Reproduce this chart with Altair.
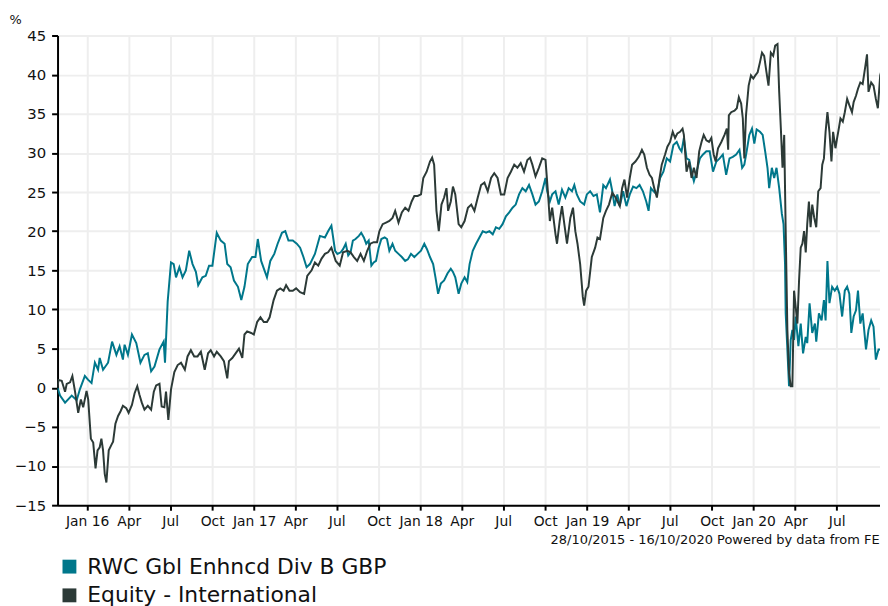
import altair as alt
import pandas as pd

FUND = "RWC Gbl Enhncd Div B GBP"
SECTOR = "Equity - International"
TEAL = "#00778b"
DARK = "#2c3a37"

# time in decimal years, value in %
fund_t = [2015.822, 2015.837, 2015.867, 2015.907, 2015.937, 2015.956, 2015.986, 2016.006, 2016.026, 2016.046,
          2016.065, 2016.075, 2016.095, 2016.125, 2016.149, 2016.175, 2016.194, 2016.214, 2016.224, 2016.244,
          2016.268, 2016.294, 2016.319, 2016.343, 2016.363, 2016.383, 2016.403, 2016.433, 2016.458, 2016.466,
          2016.482, 2016.502, 2016.518, 2016.532, 2016.552, 2016.571, 2016.591, 2016.611, 2016.631, 2016.651,
          2016.665, 2016.690, 2016.710, 2016.730, 2016.750, 2016.776, 2016.800, 2016.823, 2016.839, 2016.859,
          2016.879, 2016.903, 2016.923, 2016.942, 2016.962, 2016.988, 2017.008, 2017.022, 2017.042, 2017.062,
          2017.077, 2017.097, 2017.121, 2017.141, 2017.167, 2017.187, 2017.206, 2017.232, 2017.256, 2017.276,
          2017.296, 2017.315, 2017.335, 2017.365, 2017.395, 2017.425, 2017.444, 2017.464,
          2017.486, 2017.500, 2017.520, 2017.534, 2017.550, 2017.565, 2017.579, 2017.593, 2017.609, 2017.629,
          2017.643, 2017.659, 2017.673, 2017.688, 2017.704, 2017.718, 2017.732, 2017.748, 2017.764, 2017.784,
          2017.798, 2017.812, 2017.831, 2017.847, 2017.867, 2017.887, 2017.907, 2017.923, 2017.942, 2017.962,
          2017.982, 2018.002, 2018.022, 2018.038, 2018.056, 2018.075, 2018.089, 2018.105, 2018.121, 2018.141,
          2018.161, 2018.181, 2018.194, 2018.208, 2018.228, 2018.244, 2018.264, 2018.280, 2018.294, 2018.313,
          2018.333, 2018.353, 2018.373, 2018.393, 2018.413, 2018.433, 2018.452, 2018.472, 2018.492, 2018.512,
          2018.532, 2018.552, 2018.571, 2018.591, 2018.611, 2018.631, 2018.651, 2018.671, 2018.690, 2018.710,
          2018.730, 2018.750, 2018.760, 2018.776, 2018.790, 2018.810, 2018.829, 2018.849, 2018.869, 2018.889,
          2018.909, 2018.923, 2018.938, 2018.958, 2018.982, 2018.998, 2019.018, 2019.038, 2019.058, 2019.077,
          2019.097, 2019.113, 2019.137, 2019.151, 2019.165, 2019.181, 2019.196, 2019.216, 2019.236, 2019.256,
          2019.276, 2019.296, 2019.315, 2019.335, 2019.355, 2019.369, 2019.383, 2019.399, 2019.419, 2019.438,
          2019.458, 2019.478, 2019.498, 2019.518, 2019.538, 2019.554, 2019.567, 2019.581, 2019.597, 2019.613,
          2019.627, 2019.641, 2019.657, 2019.677, 2019.696, 2019.716, 2019.736, 2019.756, 2019.776, 2019.796,
          2019.815, 2019.835, 2019.855, 2019.875, 2019.895, 2019.915, 2019.931, 2019.944, 2019.958, 2019.974,
          2019.990, 2020.004, 2020.018, 2020.038, 2020.054, 2020.069, 2020.083, 2020.093, 2020.109, 2020.123,
          2020.137, 2020.153, 2020.169, 2020.179, 2020.188, 2020.192, 2020.202, 2020.212, 2020.222, 2020.232,
          2020.242, 2020.252, 2020.268, 2020.282, 2020.296, 2020.312, 2020.321, 2020.335, 2020.351, 2020.367,
          2020.375, 2020.391, 2020.407, 2020.421, 2020.431, 2020.442, 2020.454, 2020.470, 2020.486, 2020.500,
          2020.514, 2020.530, 2020.546, 2020.560, 2020.573, 2020.585, 2020.599, 2020.613, 2020.625, 2020.639,
          2020.653, 2020.673, 2020.688, 2020.704, 2020.718, 2020.732, 2020.748, 2020.768, 2020.790]
fund_v = [0.0, -1.0, -1.9, -1.0, -1.6, -0.2, 1.5, 1.0, 0.6, 3.2,
          2.3, 3.8, 2.3, 3.2, 5.9, 4.2, 5.3, 3.6, 5.5, 4.2,
          6.8, 5.7, 3.2, 4.2, 4.4, 2.1, 2.7, 4.9, 5.9, 3.2,
          11.0, 16.0, 15.8, 14.1, 15.4, 14.1, 15.0, 17.5, 15.8, 14.8,
          13.1, 14.1, 14.3, 15.6, 15.6, 19.8, 18.8, 18.4, 15.8, 15.4,
          13.7, 12.9, 11.2, 12.9, 15.8, 16.7, 16.7, 19.0, 16.2, 15.0,
          14.1, 16.2, 17.1, 18.4, 19.8, 20.0, 18.8, 18.8, 18.4, 17.9,
          16.7, 15.4, 15.8, 17.1, 19.4, 19.2, 20.0, 20.7,
          17.5, 17.1, 17.3, 17.7, 18.4, 16.9, 17.3, 18.8, 19.0, 19.4,
          19.8, 19.2, 18.4, 18.8, 15.6, 16.0, 16.2, 17.9, 19.0, 19.2,
          19.0, 17.5, 18.4, 17.5, 17.1, 16.7, 16.2, 16.4, 17.1, 16.7,
          17.1, 17.5, 18.4, 17.7, 16.7, 15.8, 14.1, 12.0, 13.3, 13.7,
          14.6, 15.2, 14.8, 14.1, 12.0, 13.3, 14.1, 13.5, 15.8, 17.5,
          18.4, 19.2, 20.0, 19.8, 20.0, 19.6, 20.5, 20.3, 20.9, 21.9,
          22.4, 23.0, 23.4, 24.7, 25.5, 25.1, 25.9, 24.7, 23.4, 23.8,
          25.1, 26.8, 25.1, 23.8, 24.7, 25.1, 23.4, 25.3, 24.3, 25.5,
          25.1, 25.9, 24.7, 23.8, 23.4, 24.7, 25.1, 24.5, 24.7, 22.4,
          25.9, 25.5, 26.6, 25.1, 23.2, 24.7, 23.2, 25.1, 23.2, 24.7,
          25.7, 25.5, 25.9, 25.1, 23.8, 22.6, 25.5, 25.1, 24.7, 26.8,
          27.6, 29.3, 28.9, 31.0, 31.4, 30.6, 30.2, 31.9, 29.3, 29.1,
          27.6, 26.4, 27.6, 29.3, 29.8, 30.2, 30.2, 27.6, 28.9, 29.3,
          29.8, 27.2, 29.3, 29.5, 29.8, 30.4, 28.1, 28.5, 30.2, 32.3,
          33.1, 31.2, 33.0, 32.7, 32.3, 30.2, 28.1, 25.5, 28.1, 26.8,
          28.1, 25.5, 22.2, 20.9, 15.8, 9.5, 4.9, 0.2, 6.1, 7.4,
          6.1, 9.1, 5.3, 8.2, 4.4, 6.5, 5.7, 10.8, 7.0, 8.2,
          5.9, 9.5, 8.6, 11.2, 8.6, 16.2, 10.8, 12.9, 12.4, 12.9,
          12.0, 9.1, 12.4, 12.9, 12.0, 7.0, 9.1, 9.9, 12.4, 8.2,
          9.5, 4.9, 7.4, 8.6, 7.8, 3.6, 4.9, 4.9, 3.8]

sector_t = [2015.822, 2015.827, 2015.847, 2015.867, 2015.877, 2015.897, 2015.911, 2015.927, 2015.946, 2015.962,
            2015.976, 2015.996, 2016.006, 2016.022, 2016.036, 2016.050, 2016.062, 2016.075, 2016.085, 2016.095,
            2016.105, 2016.115, 2016.129, 2016.145, 2016.155, 2016.169, 2016.185, 2016.200, 2016.214, 2016.234,
            2016.248, 2016.268, 2016.284, 2016.300, 2016.313, 2016.327, 2016.343, 2016.363, 2016.383, 2016.399,
            2016.413, 2016.433, 2016.446, 2016.462, 2016.472, 2016.486, 2016.502, 2016.522, 2016.542, 2016.562,
            2016.585, 2016.601, 2016.621, 2016.641, 2016.661, 2016.681, 2016.704, 2016.724, 2016.740, 2016.760,
            2016.776, 2016.800, 2016.819, 2016.839, 2016.849, 2016.869, 2016.889, 2016.909, 2016.929, 2016.942,
            2016.958, 2016.982, 2016.998, 2017.018, 2017.038, 2017.058, 2017.077, 2017.093, 2017.117, 2017.137,
            2017.157, 2017.177, 2017.192, 2017.212, 2017.232, 2017.252, 2017.276, 2017.300, 2017.319, 2017.345,
            2017.365, 2017.385, 2017.405, 2017.425, 2017.444, 2017.464,
            2017.490, 2017.514, 2017.534, 2017.560, 2017.579, 2017.599, 2017.619, 2017.639, 2017.659, 2017.679,
            2017.698, 2017.718, 2017.738, 2017.752, 2017.772, 2017.792, 2017.812, 2017.831, 2017.847, 2017.867,
            2017.887, 2017.907, 2017.927, 2017.946, 2017.962, 2017.982, 2018.002, 2018.016, 2018.036, 2018.056,
            2018.069, 2018.081, 2018.095, 2018.109, 2018.125, 2018.141, 2018.155, 2018.165, 2018.181, 2018.194,
            2018.208, 2018.228, 2018.244, 2018.264, 2018.284, 2018.304, 2018.323, 2018.343, 2018.363, 2018.383,
            2018.403, 2018.423, 2018.442, 2018.462, 2018.482, 2018.502, 2018.522, 2018.542, 2018.562, 2018.581,
            2018.601, 2018.621, 2018.641, 2018.657, 2018.671, 2018.690, 2018.710, 2018.730, 2018.750, 2018.764,
            2018.776, 2018.790, 2018.810, 2018.819, 2018.835, 2018.849, 2018.863, 2018.879, 2018.899, 2018.915,
            2018.929, 2018.942, 2018.958, 2018.974, 2018.982, 2018.994, 2019.008, 2019.028, 2019.048, 2019.062,
            2019.077, 2019.097, 2019.113, 2019.131, 2019.151, 2019.171, 2019.196, 2019.210, 2019.224, 2019.240,
            2019.256, 2019.270, 2019.290, 2019.310, 2019.329, 2019.343, 2019.359, 2019.375, 2019.389, 2019.403,
            2019.419, 2019.435, 2019.448, 2019.468, 2019.482, 2019.498, 2019.514, 2019.528, 2019.542, 2019.558,
            2019.573, 2019.581, 2019.597, 2019.613, 2019.627, 2019.641, 2019.657, 2019.673, 2019.687, 2019.700,
            2019.716, 2019.732, 2019.746, 2019.760, 2019.772, 2019.786, 2019.806, 2019.825, 2019.839, 2019.847,
            2019.851, 2019.865, 2019.885, 2019.899, 2019.911, 2019.925, 2019.935, 2019.944, 2019.954, 2019.970,
            2019.984, 2019.998, 2020.010, 2020.024, 2020.038, 2020.050, 2020.063, 2020.077, 2020.089, 2020.103,
            2020.117, 2020.129, 2020.143, 2020.153, 2020.163, 2020.173, 2020.183, 2020.192, 2020.202, 2020.212,
            2020.222, 2020.232, 2020.242, 2020.252, 2020.262, 2020.272, 2020.282, 2020.292, 2020.302, 2020.312,
            2020.321, 2020.331, 2020.341, 2020.351, 2020.363, 2020.375, 2020.387, 2020.401, 2020.411, 2020.421,
            2020.431, 2020.442, 2020.454, 2020.466, 2020.476, 2020.490, 2020.500, 2020.510, 2020.520, 2020.534,
            2020.546, 2020.560, 2020.573, 2020.589, 2020.599, 2020.613, 2020.625, 2020.639, 2020.653, 2020.669,
            2020.679, 2020.688, 2020.704, 2020.718, 2020.732, 2020.744, 2020.758, 2020.768, 2020.790]
sector_v = [0.0, 1.0, 0.9, -0.5, 0.5, 0.7, 1.5, -0.5, -3.2, -1.5,
            -2.5, -0.4, -1.5, -6.5, -7.0, -10.3, -8.0, -7.6, -6.5, -8.0,
            -11.0, -12.1, -8.0, -7.3, -6.9, -4.6, -3.6, -3.0, -2.3, -2.6,
            -3.2, -2.2, -0.7, 0.2, -0.9, -1.9, -2.8, -2.3, -2.8, -0.5,
            0.3, 0.5, -2.4, -2.5, -0.5, -4.1, -0.2, 2.0, 2.9, 3.2,
            2.3, 4.0, 4.8, 4.0, 4.0, 4.6, 2.3, 4.4, 4.8, 4.0,
            4.6, 4.0, 3.4, 1.2, 3.4, 3.8, 4.4, 5.0, 3.8, 6.8,
            7.2, 7.0, 6.8, 8.4, 9.0, 8.4, 8.4, 9.0, 11.2, 12.4,
            12.7, 12.4, 13.1, 12.4, 12.4, 12.7, 12.2, 12.0, 14.3, 15.0,
            16.0, 15.6, 16.5, 17.1, 17.3, 17.9,
            16.2, 15.6, 17.3, 17.5, 17.3, 16.7, 16.2, 17.1, 16.2, 17.5,
            18.4, 18.6, 18.6, 20.0, 20.9, 21.1, 21.3, 21.7, 22.6, 21.1,
            22.4, 23.0, 22.6, 23.8, 24.5, 24.5, 24.7, 26.8, 27.6, 28.9,
            29.4, 28.5, 22.6, 20.0, 23.4, 24.3, 25.5, 22.6, 23.8, 25.7,
            24.7, 20.9, 20.5, 21.3, 23.0, 23.4, 22.6, 24.3, 25.9, 26.2,
            25.1, 26.8, 27.4, 26.8, 24.7, 24.7, 26.8, 27.6, 28.5, 28.1,
            28.7, 27.6, 29.1, 29.4, 28.5, 27.0, 28.1, 29.3, 29.1, 25.1,
            21.3, 23.0, 19.6, 18.4, 21.3, 23.2, 20.9, 18.4, 21.7, 23.0,
            20.0, 18.4, 15.8, 11.6, 10.5, 12.4, 12.9, 16.7, 17.9, 19.2,
            19.0, 21.7, 22.6, 23.4, 24.9, 24.3, 23.2, 25.5, 26.6, 24.3,
            26.8, 28.5, 28.9, 29.5, 30.4, 29.8, 28.1, 27.2, 26.8, 25.5,
            24.3, 26.8, 28.5, 29.8, 30.8, 31.4, 32.7, 31.9, 32.5, 32.7,
            33.1, 32.3, 27.6, 28.9, 26.8, 28.1, 26.8, 30.2, 31.4, 32.3,
            31.6, 31.4, 31.9, 29.8, 28.9, 30.6, 31.4, 32.3, 33.1, 30.4,
            34.8, 35.2, 35.4, 35.7, 37.1, 36.3, 34.4, 29.3, 34.8, 38.6,
            39.9, 39.5, 39.9, 40.3, 41.6, 42.8, 42.4, 40.3, 38.6, 42.8,
            42.4, 43.7, 43.9, 37.8, 33.1, 28.1, 32.3, 20.0, 7.4, 1.9,
            0.2, 0.2, 12.4, 10.3, 8.2, 13.7, 17.9, 18.4, 20.0, 17.3,
            20.9, 23.8, 20.5, 23.4, 21.7, 20.5, 25.1, 25.5, 28.5, 29.3,
            32.7, 35.2, 32.7, 28.9, 32.7, 30.6, 31.9, 33.1, 34.4, 34.0,
            35.2, 36.9, 36.1, 35.2, 36.5, 37.3, 38.2, 39.0, 38.8, 41.1,
            42.6, 37.8, 39.0, 38.6, 36.9, 35.7, 39.9, 40.7, 40.2]

y_ticks = list(range(-15, 50, 5))
x_tick_months = [(y, m) for y in range(2016, 2021) for m in (1, 4, 7, 10) if (y, m) <= (2020, 7)]
footer = "28/10/2015 - 16/10/2020 Powered by data from FE"


def to_date(t):
    year = int(t)
    start = pd.Timestamp(year=year, month=1, day=1)
    end = pd.Timestamp(year=year + 1, month=1, day=1)
    d = start + (end - start) * (t - year)
    return d.strftime("%Y-%m-%dT%H:%M:%S")


df_fund = pd.DataFrame({"date": [to_date(t) for t in fund_t], "value": fund_v, "series": FUND})
df_sector = pd.DataFrame({"date": [to_date(t) for t in sector_t], "value": sector_v, "series": SECTOR})

FONT = "DejaVu Sans"

x_enc = alt.X(
    "date:T",
    scale=alt.Scale(domain=[alt.DateTime(year=2015, month=10, date=28),
                            alt.DateTime(year=2020, month=10, date=4)]),
    axis=alt.Axis(
        values=[alt.DateTime(year=y, month=m, date=1) for y, m in x_tick_months],
        labelExpr="month(datum.value) == 0 ? timeFormat(datum.value, '%b %y') : timeFormat(datum.value, '%b')",
        title=footer,
        titleAnchor="start",
        titleAlign="left",
        titleBaseline="alphabetic",
        titleX=497,
        titleY=39,
        titleFontSize=13.1,
        titleFontWeight="normal",
        titleFont=FONT,
        titleColor="#111111",
        labelFontSize=14,
        labelPadding=5,
        tickSize=5,
        labelOverlap=False,
        labelFlush=False,
    ),
)
y_enc = alt.Y(
    "value:Q",
    scale=alt.Scale(domain=[-15, 45], nice=False, zero=False),
    axis=alt.Axis(
        values=y_ticks,
        title="%",
        titleAngle=0,
        titleAlign="left",
        titleBaseline="alphabetic",
        titleX=-49,
        titleY=-12,
        titleFontSize=13,
        titleFontWeight="normal",
        titleFont=FONT,
        titleColor="#111111",
        labelFontSize=15,
        labelPadding=6,
        tickSize=6,
    ),
)
color_enc = alt.Color(
    "series:N",
    scale=alt.Scale(domain=[FUND, SECTOR], range=[TEAL, DARK]),
    legend=alt.Legend(
        title=None,
        orient="none",
        legendX=1,
        legendY=525,
        direction="vertical",
        columns=1,
        symbolType="square",
        symbolSize=49,
        symbolStrokeWidth=7,
        labelFontSize=22,
        labelFont=FONT,
        labelColor="#111111",
        labelOffset=7,
        labelLimit=0,
        rowPadding=-9,
        values=[FUND, SECTOR],
    ),
)

fund_line = alt.Chart(df_fund).mark_line(strokeWidth=2, clip=True).encode(x=x_enc, y=y_enc, color=color_enc)
sector_line = alt.Chart(df_sector).mark_line(strokeWidth=2, clip=True).encode(x=x_enc, y=y_enc, color=color_enc)

chart = (
    alt.layer(fund_line, sector_line)
    .properties(
        width=830,
        height=474,
        autosize="none",
        padding={"left": 50, "top": 25, "right": 0, "bottom": 99},
    )
    .configure_view(stroke=None)
    .configure_axis(
        domainColor="#000000",
        domainWidth=2,
        tickColor="#000000",
        tickWidth=2,
        gridColor="#eeeeee",
        gridWidth=2,
        labelFont=FONT,
        labelColor="#111111",
    )
)

chart.save("out.html", embed_options={"renderer": "svg", "actions": False})
